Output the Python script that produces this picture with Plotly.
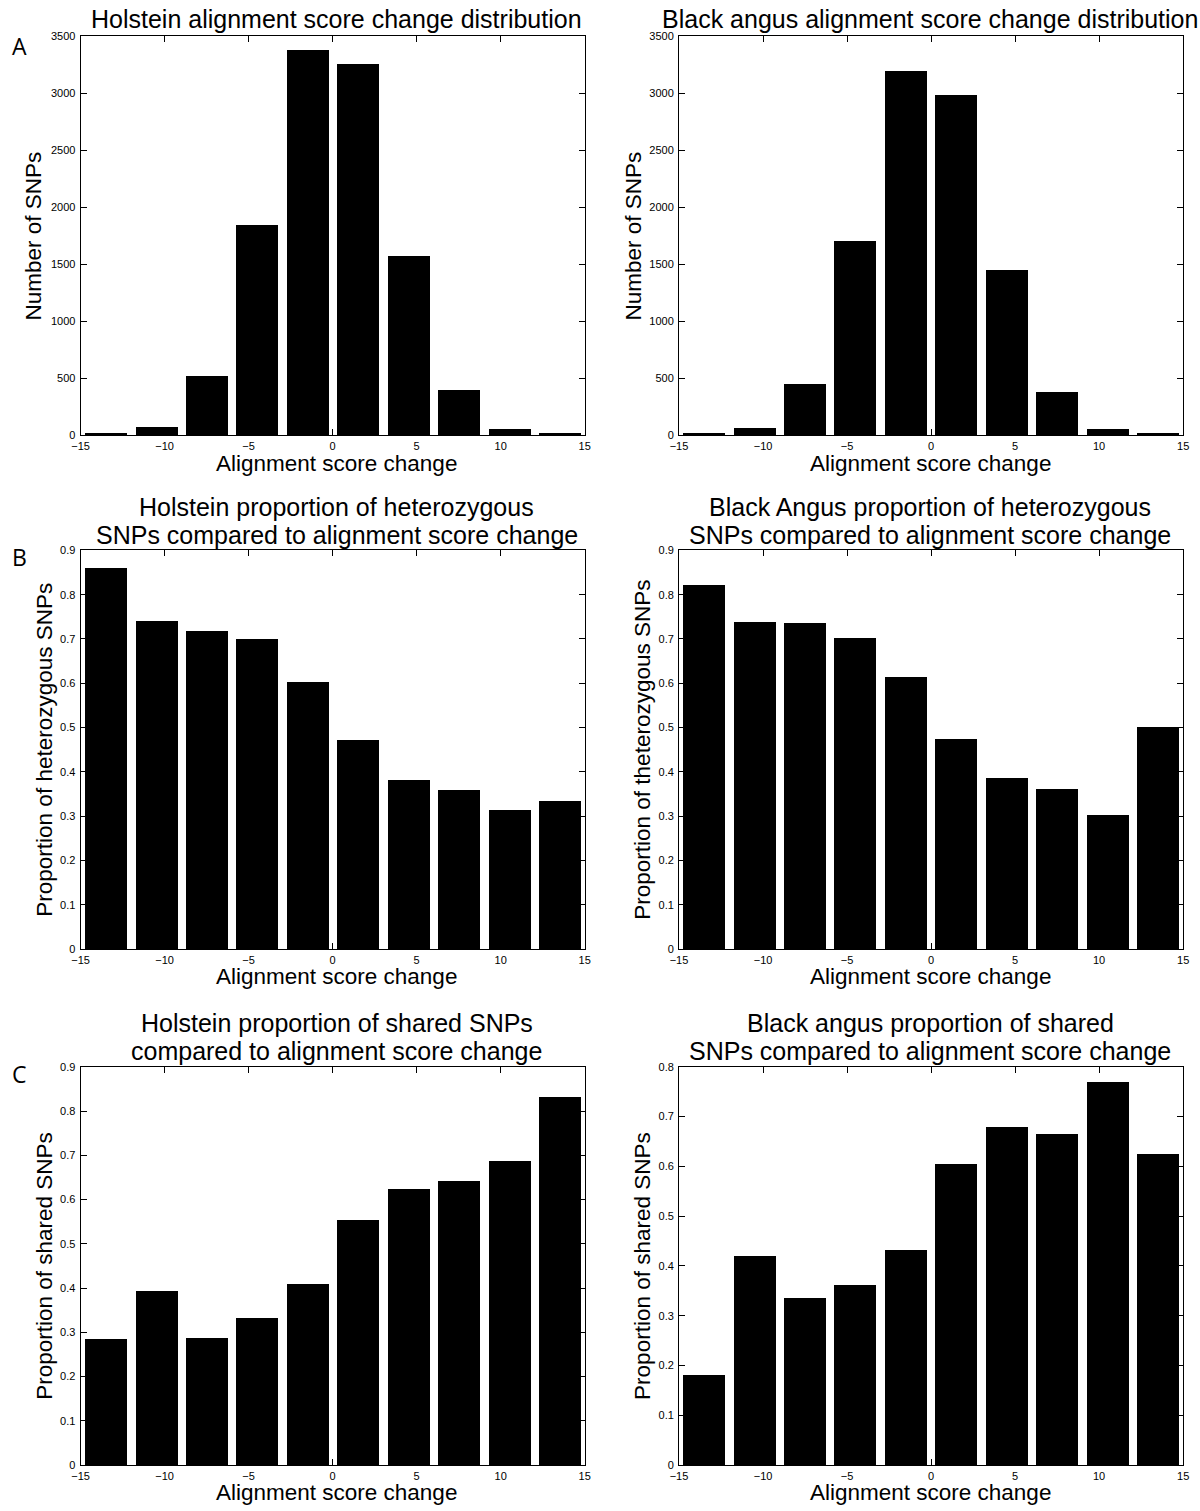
import plotly.graph_objects as go

# ---------------- data ----------------
bin_centers = [-13.5, -10.5, -7.5, -4.5, -1.5, 1.5, 4.5, 7.5, 10.5, 13.5]

holstein_counts = [10, 65, 520, 1845, 3375, 3250, 1565, 390, 50, 8]
angus_counts = [15, 60, 445, 1700, 3195, 2980, 1445, 380, 50, 10]

holstein_het = [0.859, 0.739, 0.717, 0.700, 0.603, 0.471, 0.381, 0.358, 0.313, 0.333]
angus_het = [0.820, 0.738, 0.735, 0.701, 0.614, 0.474, 0.386, 0.361, 0.303, 0.500]

holstein_shared = [0.285, 0.394, 0.288, 0.333, 0.409, 0.555, 0.625, 0.643, 0.688, 0.833]
angus_shared = [0.181, 0.421, 0.336, 0.362, 0.432, 0.606, 0.679, 0.665, 0.769, 0.625]

x_tick_vals = [-15, -10, -5, 0, 5, 10, 15]
x_tick_text = ["\u221215", "\u221210", "\u22125", "0", "5", "10", "15"]

count_tick_vals = [0, 500, 1000, 1500, 2000, 2500, 3000, 3500]
count_tick_text = ["0", "500", "1000", "1500", "2000", "2500", "3000", "3500"]

prop9_tick_vals = [0, 0.1, 0.2, 0.3, 0.4, 0.5, 0.6, 0.7, 0.8, 0.9]
prop9_tick_text = ["0", "0.1", "0.2", "0.3", "0.4", "0.5", "0.6", "0.7", "0.8", "0.9"]
prop8_tick_vals = [0, 0.1, 0.2, 0.3, 0.4, 0.5, 0.6, 0.7, 0.8]
prop8_tick_text = ["0", "0.1", "0.2", "0.3", "0.4", "0.5", "0.6", "0.7", "0.8"]

titles = [
    ["Holstein alignment score change distribution"],
    ["Black angus alignment score change distribution"],
    ["Holstein proportion of heterozygous", "SNPs compared to alignment score change"],
    ["Black Angus proportion of heterozygous", "SNPs compared to alignment score change"],
    ["Holstein proportion of shared SNPs", "compared to alignment score change"],
    ["Black angus proportion of shared", "SNPs compared to alignment score change"],
]
y_titles = [
    "Number of SNPs", "Number of SNPs",
    "Proportion of heterozygous SNPs", "Proportion of theterozygous SNPs",
    "Proportion of shared SNPs", "Proportion of shared SNPs",
]
x_title = "Alignment score change"
panel_letters = ["A", "B", "C"]

# ---------------- layout geometry (page pixels) ----------------
W, H = 1200, 1511

col_x = [(72.5, 583.0), (678.5, 1189.0)]
col_text_cx = [332, 933]
row_y = [(30.7, 432.7), (548.7, 950.7), (1069.3, 1470.7)]
ytitle_x = [[25, 632.5], [36.4, 642], [36.4, 642]]
title_line_y = [[13.5], [505, 533], [1025, 1053]]
letter_pos = [(11, 40), (11, 555), (11, 1077)]

FONT = "Liberation Sans"

series = [holstein_counts, angus_counts, holstein_het, angus_het, holstein_shared, angus_shared]
y_ranges = [[0, 3500], [0, 3500], [0, 0.9], [0, 0.9], [0, 0.9], [0, 0.8]]
y_ticks = [
    (count_tick_vals, count_tick_text), (count_tick_vals, count_tick_text),
    (prop9_tick_vals, prop9_tick_text), (prop9_tick_vals, prop9_tick_text),
    (prop9_tick_vals, prop9_tick_text), (prop8_tick_vals, prop8_tick_text),
]


def px_x(x):
    return x / W


def px_y(y):
    return 1 - y / H


fig = go.Figure()
annotations = []
layout = {}

for i in range(6):
    r, c = divmod(i, 2)
    n = i + 1
    xa = "x" if n == 1 else f"x{n}"
    ya = "y" if n == 1 else f"y{n}"
    fig.add_trace(go.Bar(
        x=bin_centers, y=series[i], width=2.5,
        marker=dict(color="black", line=dict(width=0)),
        xaxis=xa, yaxis=ya, showlegend=False, hoverinfo="x+y",
    ))
    x0, x1 = col_x[c]
    yt, yb = row_y[r]
    common = dict(showline=True, linecolor="black", linewidth=1, mirror="ticks",
                  ticks="inside", ticklen=6, tickcolor="black", tickwidth=1,
                  showgrid=False, zeroline=False, fixedrange=True,
                  tickfont=dict(family=FONT, size=11, color="black"))
    layout["xaxis" if n == 1 else f"xaxis{n}"] = dict(
        domain=[px_x(x0), px_x(x1)], anchor=ya, range=[-15, 15],
        tickmode="array", tickvals=x_tick_vals, ticktext=x_tick_text,
        ticklabelstandoff=1, **common)
    layout["yaxis" if n == 1 else f"yaxis{n}"] = dict(
        domain=[px_y(yb), px_y(yt)], anchor=xa, range=y_ranges[i],
        tickmode="array", tickvals=y_ticks[i][0], ticktext=y_ticks[i][1],
        ticklabelstandoff=2, **common)

    cx = col_text_cx[c]
    for line, ly in zip(titles[i], title_line_y[r]):
        annotations.append(dict(text=line, x=px_x(cx), y=px_y(ly), xref="paper", yref="paper",
                                xanchor="center", yanchor="middle", showarrow=False,
                                font=dict(family=FONT, size=25, color="black")))
    annotations.append(dict(text=x_title, x=px_x(cx), y=px_y(yb + 28), xref="paper", yref="paper",
                            xanchor="center", yanchor="middle", showarrow=False,
                            font=dict(family=FONT, size=22.5, color="black")))
    annotations.append(dict(text=y_titles[i], x=px_x(ytitle_x[r][c]), y=px_y((yt + yb) / 2),
                            xref="paper", yref="paper", textangle=-90,
                            xanchor="center", yanchor="middle", showarrow=False,
                            font=dict(family=FONT, size=22.5, color="black")))

for r in range(3):
    lx, ly = letter_pos[r]
    annotations.append(dict(text=panel_letters[r], x=px_x(lx), y=px_y(ly),
                            xref="paper", yref="paper", xanchor="center", yanchor="middle",
                            showarrow=False, font=dict(family="Open Sans", size=23, color="black")))

fig.update_layout(
    width=W, height=H, margin=dict(l=0, r=0, t=0, b=0),
    paper_bgcolor="white", plot_bgcolor="white",
    annotations=annotations, bargap=0, **layout,
)

fig.write_html("out.html", config={"displayModeBar": False},
               post_script="document.body.style.margin='0';document.body.style.overflow='hidden';")
